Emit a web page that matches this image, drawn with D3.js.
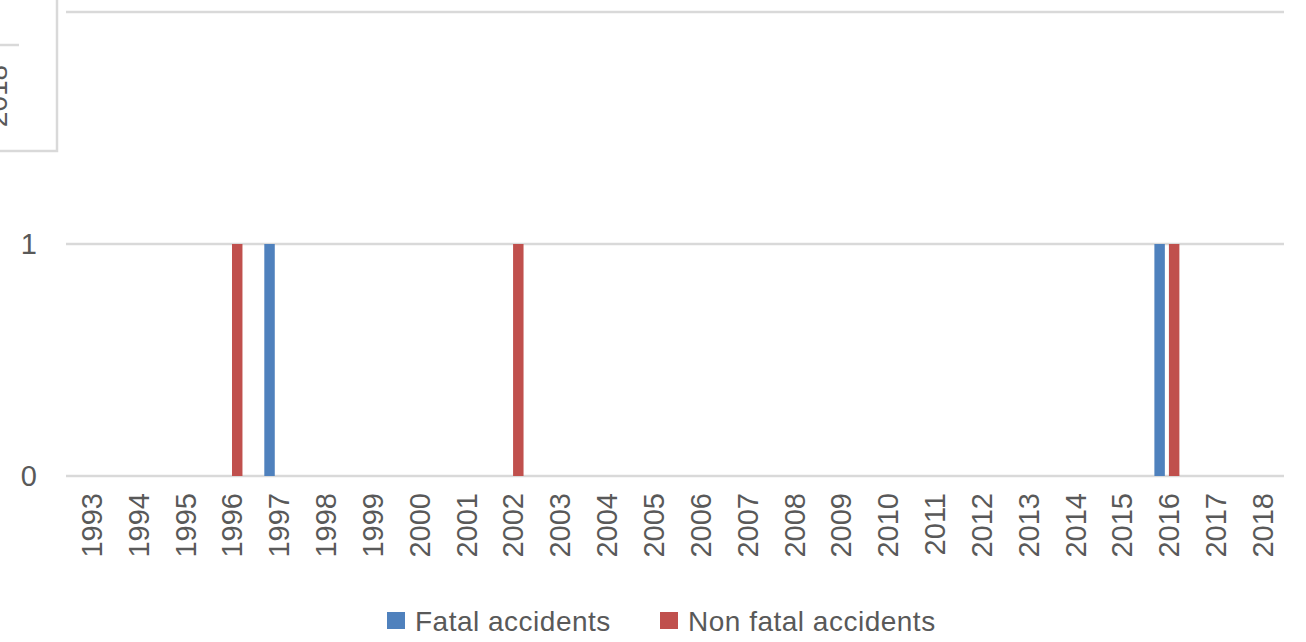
<!DOCTYPE html>
<html>
<head>
<meta charset="UTF-8">
<title></title>
<style>
  body { margin: 0; background: #fff; }
  text { font-family: "Liberation Sans", Arial, sans-serif; fill: #595959; }
</style>
</head>
<body>
<div id="chart"></div>
<script src="https://cdn.jsdelivr.net/npm/d3@7"></script>
<script>
// data
var years = ["1993", "1994", "1995", "1996", "1997", "1998", "1999", "2000", "2001", "2002",
             "2003", "2004", "2005", "2006", "2007", "2008", "2009", "2010", "2011", "2012",
             "2013", "2014", "2015", "2016", "2017", "2018"];
var fatal    = [0, 0, 0, 0, 1, 0, 0, 0, 0, 0, 0, 0, 0, 0, 0, 0, 0, 0, 0, 0, 0, 0, 0, 1, 0, 0];
var nonFatal = [0, 0, 0, 1, 0, 0, 0, 0, 0, 1, 0, 0, 0, 0, 0, 0, 0, 0, 0, 0, 0, 0, 0, 1, 0, 0];
var seriesNames = ["Fatal accidents", "Non fatal accidents"];
var yTicks = [0, 1, 2];

var width = 1306, height = 642;
var colors = ["#4f81bd", "#c0504d"];
var grid = "#d9d9d9";

var svg = d3.select("#chart").append("svg")
    .attr("width", width).attr("height", height);

var x = d3.scaleBand().domain(years).range([66, 1284]).padding(0);
var x1 = d3.scaleBand().domain(seriesNames).range([-12.5, 12.5]).paddingInner(0.28);
var y = d3.scaleLinear().domain([0, 2]).range([476, 12]);

// gridlines
svg.append("g").selectAll("line")
    .data(yTicks)
    .join("line")
    .attr("x1", 66).attr("x2", 1284)
    .attr("y1", function (d) { return y(d); })
    .attr("y2", function (d) { return y(d); })
    .attr("stroke", grid).attr("stroke-width", 2.5);

// y labels
svg.append("g").selectAll("text")
    .data(yTicks)
    .join("text")
    .attr("x", 37)
    .attr("y", function (d) { return y(d); })
    .attr("dy", "0.36em")
    .attr("text-anchor", "end")
    .style("font-size", "29px")
    .text(function (d) { return d; });

// bars
var table = years.map(function (yr, i) {
    return { year: yr, values: [fatal[i], nonFatal[i]] };
});
var groups = svg.append("g").selectAll("g")
    .data(table)
    .join("g")
    .attr("transform", function (d) { return "translate(" + (x(d.year) + x.bandwidth() / 2) + ",0)"; });
groups.selectAll("rect")
    .data(function (d) { return d.values.map(function (v, k) { return { name: seriesNames[k], v: v, k: k }; }); })
    .join("rect")
    .attr("x", function (d) { return x1(d.name); })
    .attr("width", x1.bandwidth())
    .attr("y", function (d) { return y(d.v); })
    .attr("height", function (d) { return y(0) - y(d.v); })
    .attr("fill", function (d) { return colors[d.k]; });

// x labels
svg.append("g").selectAll("text")
    .data(years)
    .join("text")
    .attr("transform", function (d) { return "translate(" + (x(d) + x.bandwidth() / 2 + 2) + ",493) rotate(-90)"; })
    .attr("dy", "0.36em")
    .attr("text-anchor", "end")
    .style("font-size", "29px")
    .text(function (d) { return d; });

// legend
var legend = svg.append("g");
var lx = [387, 660];
seriesNames.forEach(function (name, i) {
    legend.append("rect")
        .attr("x", lx[i]).attr("y", 612)
        .attr("width", 18).attr("height", 17)
        .attr("fill", colors[i]);
    legend.append("text")
        .attr("x", lx[i] + 28).attr("y", 621)
        .attr("dy", "0.36em")
        .style("font-size", "28px")
        .style("letter-spacing", "0.5px")
        .text(name);
});

// cropped box overlapping the corner
var box = svg.append("g");
box.append("rect")
    .attr("x", -5).attr("y", -5)
    .attr("width", 62).attr("height", 156)
    .attr("fill", "#fff").attr("stroke", grid).attr("stroke-width", 2.5);
box.append("line")
    .attr("x1", 0).attr("x2", 19).attr("y1", 45).attr("y2", 45)
    .attr("stroke", grid).attr("stroke-width", 2.5);
box.append("text")
    .attr("transform", "translate(7,96) rotate(-90)")
    .attr("text-anchor", "middle")
    .style("font-size", "28px")
    .text("2018");
</script>
</body>
</html>
